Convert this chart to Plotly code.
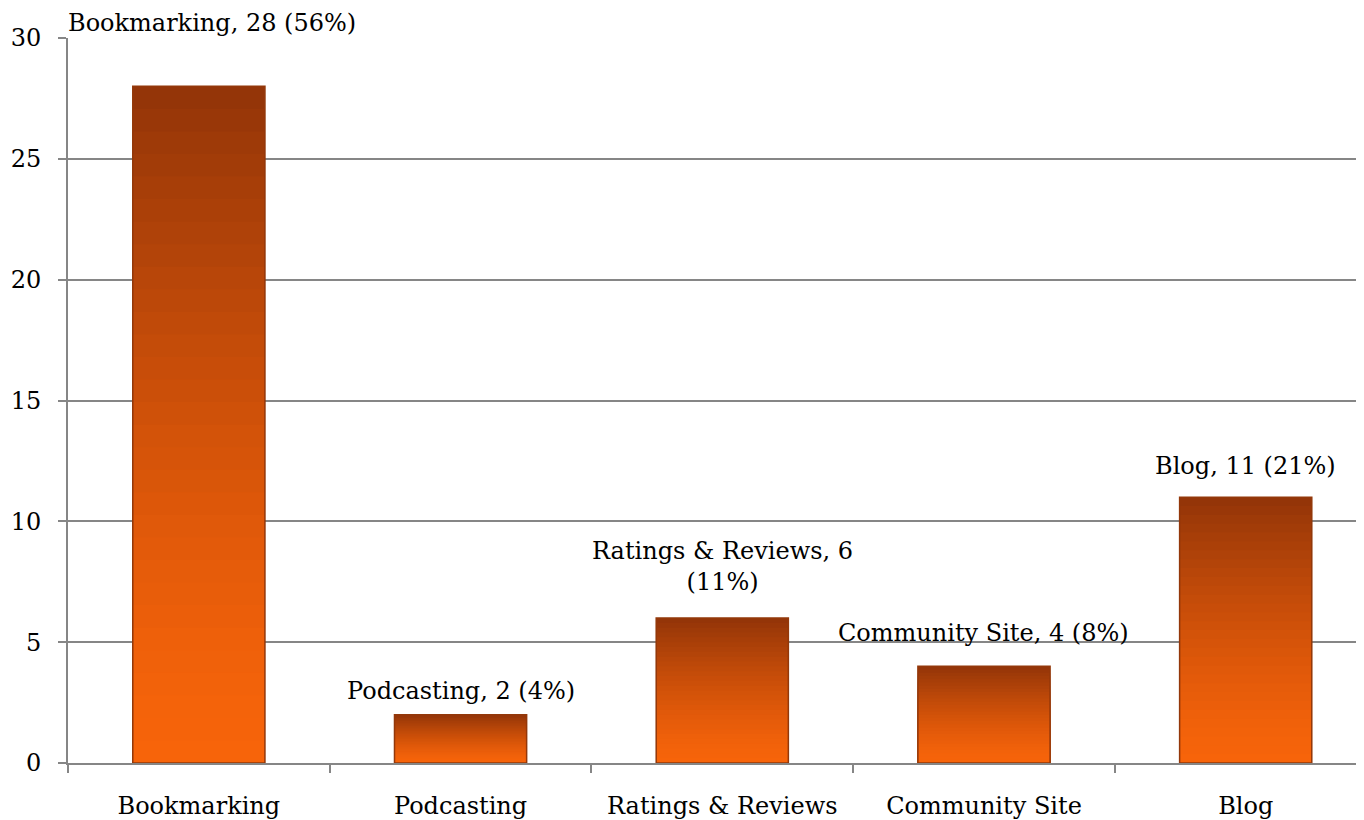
import plotly.graph_objects as go

categories = ["Bookmarking", "Podcasting", "Ratings & Reviews", "Community Site", "Blog"]
values = [28, 2, 6, 4, 11]
percents = ["56%", "4%", "11%", "8%", "21%"]
y_ticks = [0, 5, 10, 15, 20, 25, 30]

FONT = "DejaVu Serif"
GRID = "#868686"
FS = 24

bright = (247, 100, 10)
dark = (146, 52, 8)

def mix(t):
    t = max(0.0, min(1.0, t))
    t = t ** 1.4
    r = [round(bright[k] + (dark[k] - bright[k]) * t) for k in range(3)]
    return "rgb(%d,%d,%d)" % tuple(r)

fig = go.Figure()
N = 30
# overlapping bars: tallest (darkest top colour) first, shorter/brighter on top
for i in range(N):
    frac = (N - i) / N
    fig.add_trace(go.Bar(
        x=categories,
        y=[v * frac for v in values],
        width=0.505,
        marker=dict(color=mix(frac - 0.5 / N), line=dict(width=0)),
        hoverinfo="skip",
        showlegend=False,
    ))
# outline
fig.add_trace(go.Bar(
    x=categories, y=values, width=0.505,
    marker=dict(color="rgba(0,0,0,0)", line=dict(color="#93380a", width=1.5)),
    showlegend=False, hovertemplate="%{x}: %{y}<extra></extra>",
))

labels = []
for c, v, p in zip(categories, values, percents):
    if c == "Ratings & Reviews":
        labels.append("%s, %d<br>(%s)" % (c, v, p))
    else:
        labels.append("%s, %d (%s)" % (c, v, p))

label_yshift = [0, 8, 20, 17, 15]

for i, (c, v, t) in enumerate(zip(categories, values, labels)):
    if i == 0:
        fig.add_annotation(x=c, y=1, xref="x", yref="paper", text=t, showarrow=False,
                           yanchor="bottom", xshift=13, yshift=0, borderpad=0,
                           font=dict(family=FONT, size=FS, color="black"))
    else:
        fig.add_annotation(x=c, y=v, xref="x", yref="y", text=t, showarrow=False,
                           yanchor="bottom", yshift=label_yshift[i],
                           font=dict(family=FONT, size=FS, color="black"))

fig.update_layout(
    width=1356, height=812,
    margin=dict(l=60, r=0, t=30, b=50),
    paper_bgcolor="white", plot_bgcolor="white",
    barmode="overlay",
    font=dict(family=FONT, size=FS, color="black"),
    showlegend=False,
)
fig.update_xaxes(
    type="category", range=[-0.5, 4.452],
    showline=True, linecolor=GRID, linewidth=2,
    ticks="outside", tickson="boundaries", ticklen=8, tickwidth=2, tickcolor=GRID,
    showgrid=False, ticklabelstandoff=20,
    tickfont=dict(family=FONT, size=FS, color="black"),
)
fig.update_yaxes(
    range=[0, 30], tickvals=y_ticks,
    showline=True, linecolor=GRID, linewidth=2,
    ticks="outside", ticklen=8, tickwidth=2, tickcolor=GRID,
    showgrid=True, gridcolor=GRID, gridwidth=2,
    zeroline=False, ticklabelstandoff=12,
    tickfont=dict(family=FONT, size=FS, color="black"),
)

fig.write_html("out.html")
